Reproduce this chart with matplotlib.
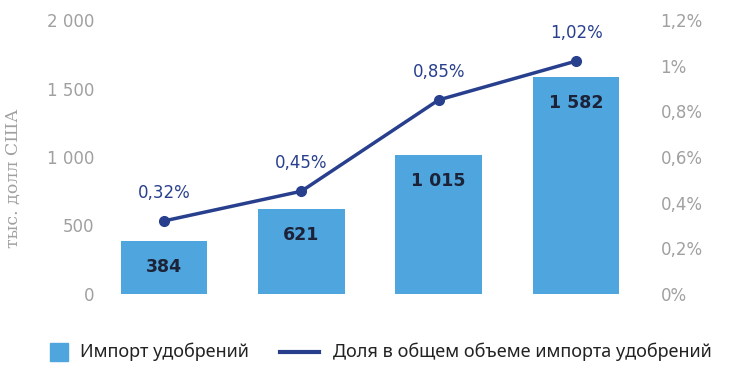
import matplotlib
matplotlib.use("Agg")
import matplotlib.pyplot as plt
from matplotlib.patches import Rectangle
from matplotlib.lines import Line2D
from matplotlib.ticker import FuncFormatter

# data
years = ["1", "2", "3", "4"]
imports = [384, 621, 1015, 1582]
share = [0.32, 0.45, 0.85, 1.02]

bar_c = "#4fa6de"
line_c = "#283f8e"
grey = "#a0a0a0"
FONT = "DejaVu Sans"


def sp(v):
    return f"{v:,.0f}".replace(",", " ")


def pct(v, _=None):
    s = f"{v:.1f}".rstrip("0").rstrip(".").replace(".", ",")
    return s + "%"


fig = plt.figure(figsize=(7.3, 3.65), dpi=100)
ax = fig.add_axes([100 / 730, 71 / 365, 555 / 730, 274 / 365])
x = list(range(len(years)))
ax.bar(x, imports, width=0.63, color=bar_c, zorder=1)
ax.set_ylim(0, 2000)
ax.set_xlim(-0.466, 3.575)
ax.set_yticks([0, 500, 1000, 1500, 2000])
ax.yaxis.set_major_formatter(FuncFormatter(lambda v, _: sp(v)))
ax.set_xticks([])
for s in ax.spines.values():
    s.set_visible(False)
ax.tick_params(axis="y", length=0, labelsize=12, labelcolor=grey, pad=4)
for t in ax.get_yticklabels():
    t.set_fontfamily(FONT)
ax.set_ylabel("тыс. долл США", family="DejaVu Serif", color=grey, fontsize=12.5)
ax.yaxis.set_label_coords(-0.14, 0.423)
for xi, v in zip(x, imports):
    ax.text(xi, v - 190, sp(v), ha="center", va="center", fontsize=12.5,
            fontweight="bold", color="#1c2338", family=FONT)

ax2 = ax.twinx()
ax2.plot(x, share, color=line_c, lw=2.5, marker="o", ms=7, zorder=3)
ax2.set_ylim(0, 1.2)
ax2.set_yticks([0, 0.2, 0.4, 0.6, 0.8, 1.0, 1.2])
ax2.yaxis.set_major_formatter(FuncFormatter(pct))
for s in ax2.spines.values():
    s.set_visible(False)
ax2.tick_params(axis="y", length=0, labelsize=12, labelcolor=grey, pad=4)
for t in ax2.get_yticklabels():
    t.set_fontfamily(FONT)
for xi, v in zip(x, share):
    ax2.text(xi, v + 0.122, f"{v:.2f}".replace(".", ",") + "%", ha="center",
             va="center", fontsize=12, color=line_c, family=FONT)

# legend drawn by hand (square patch and longer line handle)
ly = 1 - 352 / 365
fig.patches.append(Rectangle((50 / 730, 1 - 361 / 365), 18 / 730, 18 / 365,
                             transform=fig.transFigure, color=bar_c))
fig.text(80 / 730, ly, "Импорт удобрений", ha="left", va="center",
         family="Noto Sans", fontsize=13, color="#222222")
fig.lines.append(Line2D([280 / 730, 319 / 730], [ly, ly], transform=fig.transFigure,
                        color=line_c, lw=3))
fig.text(333 / 730, ly, "Доля в общем объеме импорта удобрений", ha="left", va="center",
         family="Noto Sans", fontsize=13, color="#222222")
fig.savefig("out.png", dpi=100)
